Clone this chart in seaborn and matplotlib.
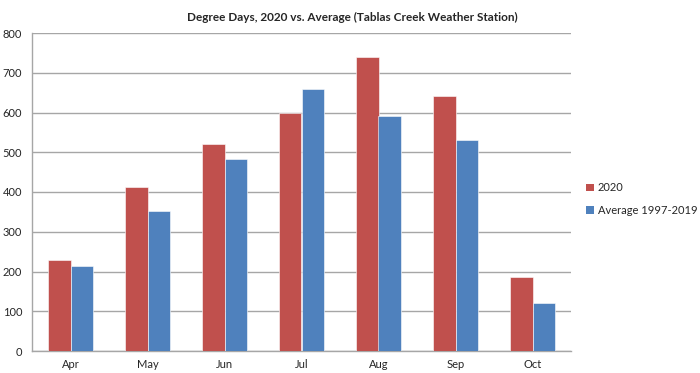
import matplotlib
matplotlib.use("Agg")
import matplotlib.pyplot as plt
from matplotlib.patches import Patch
from matplotlib.ticker import FixedLocator
import pandas as pd
import seaborn as sns

# Data
months = ["Apr", "May", "Jun", "Jul", "Aug", "Sep", "Oct"]
deg_2020 = [230, 412, 521, 600, 739, 641, 185]
deg_avg = [214, 351, 482, 658, 591, 530, 120]
series_names = ["2020", "Average 1997-2019"]

df = pd.DataFrame({
    "month": months * 2,
    "value": deg_2020 + deg_avg,
    "series": [series_names[0]] * len(months) + [series_names[1]] * len(months),
})

red = "#C0504D"
blue = "#4F81BD"
grid_col = "#A6A6A6"

sns.set_style("white")
plt.rcParams["font.family"] = ["Lato", "DejaVu Sans"]

fig = plt.figure(figsize=(7, 3.73), dpi=100)
ax = fig.add_axes([32 / 700, 22 / 373, (571 - 32) / 700, (351 - 33) / 373])

sns.barplot(
    data=df, x="month", y="value", hue="series",
    palette=[red, blue], width=0.58, saturation=1, gap=0,
    edgecolor="white", linewidth=0.4, legend=False, ax=ax, zorder=3,
)

ax.set_ylim(0, 800)
ax.set_yticks(range(0, 801, 100))
ax.set_xlim(-0.5, len(months) - 0.5)
ax.yaxis.grid(True, color=grid_col, linewidth=1, zorder=0)
ax.set_axisbelow(True)
ax.set_xlabel("")
ax.set_ylabel("")

for s in ["top", "right"]:
    ax.spines[s].set_visible(False)
for s in ["left", "bottom"]:
    ax.spines[s].set_color(grid_col)
    ax.spines[s].set_linewidth(1)

ax.tick_params(axis="y", length=4, width=1, color=grid_col, labelsize=8, pad=3)
ax.tick_params(axis="x", which="major", length=0, labelsize=8, pad=6)
ax.xaxis.set_minor_locator(FixedLocator([i - 0.5 for i in range(len(months) + 1)]))
ax.tick_params(axis="x", which="minor", length=4, width=1, color=grid_col)

fig.text(0.503, 1 - 17 / 373, "Degree Days, 2020 vs. Average (Tablas Creek Weather Station)",
         ha="center", va="center", fontsize=8.5, fontweight="bold")

handles = [Patch(facecolor=red, edgecolor="none"), Patch(facecolor=blue, edgecolor="none")]
fig.legend(handles, series_names, loc="center left", bbox_to_anchor=(586 / 700, 1 - 199 / 373),
           frameon=False, fontsize=8, handlelength=0.7, handleheight=0.7,
           handletextpad=0.35, labelspacing=1.0, borderaxespad=0, borderpad=0)

fig.savefig("out.png", dpi=100)
